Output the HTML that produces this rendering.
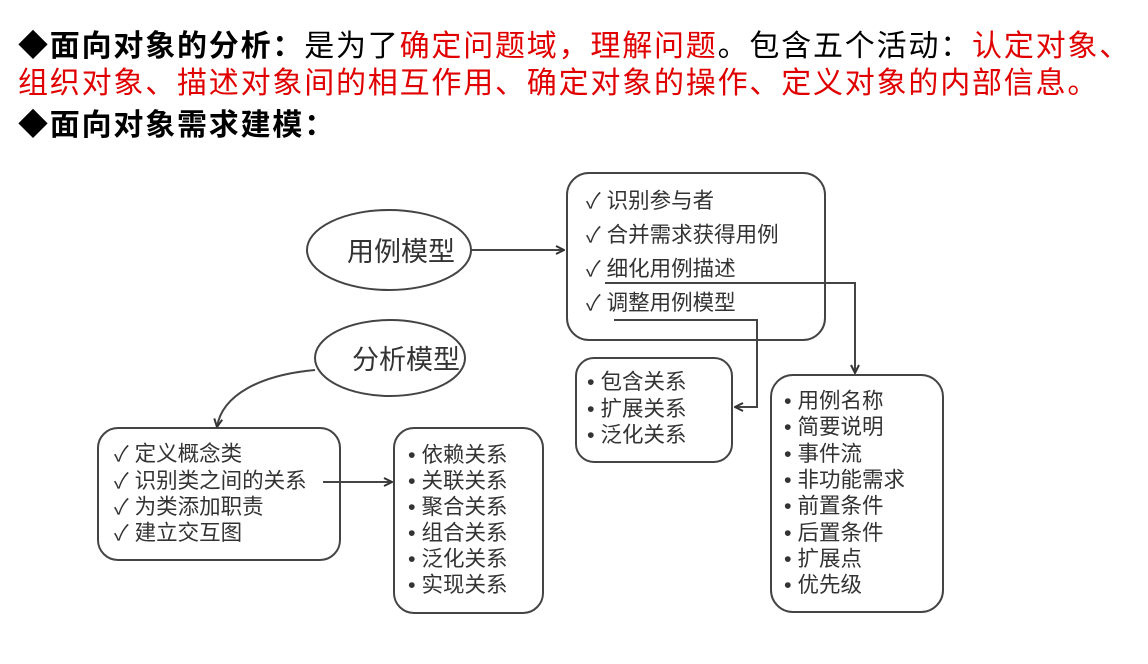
<!DOCTYPE html>
<html><head><meta charset="utf-8"><style>
html,body{margin:0;padding:0;background:#fff;width:1148px;height:664px;overflow:hidden;}
.h{position:absolute;left:18px;font-family:"Liberation Sans","Noto Sans CJK SC",sans-serif;font-size:30px;letter-spacing:1.8px;line-height:34px;white-space:nowrap;color:#000;}
.r{color:#e00000}
b{font-weight:bold}
svg{position:absolute;left:0;top:0}
svg text{font-family:"Liberation Sans","Noto Sans CJK SC",sans-serif;fill:#333;}
</style></head><body>
<div class="h" style="top:30px"><b>◆面向对象的分析：</b>是为了<span class="r">确定问题域，理解问题</span>。包含五个活动：<span class="r">认定对象、</span></div>
<div class="h r" style="top:67px">组织对象、描述对象间的相互作用、确定对象的操作、定义对象的内部信息。</div>
<div class="h" style="top:109px"><b>◆面向对象需求建模：</b></div>
<svg width="1148" height="664" viewBox="0 0 1148 664">
<defs><marker id="a" markerWidth="10" markerHeight="10" refX="9" refY="5" orient="auto" markerUnits="userSpaceOnUse"><path d="M1,1 L9,5 L1,9" fill="none" stroke="#333" stroke-width="2"/></marker></defs>
<g fill="none" stroke="#444" stroke-width="2">
<ellipse cx="389" cy="250" rx="82" ry="40"/>
<ellipse cx="390" cy="358" rx="75" ry="38"/>
<rect x="567" y="173" width="258" height="167" rx="22"/>
<rect x="576" y="358" width="156" height="104" rx="18"/>
<rect x="771" y="375" width="172" height="237" rx="22"/>
<rect x="98" y="428" width="242" height="132" rx="20"/>
<rect x="394" y="428" width="149" height="185" rx="20"/>
<line x1="471" y1="250" x2="564" y2="250" marker-end="url(#a)"/>
<polyline points="605,283 855,283 855,373" marker-end="url(#a)"/>
<polyline points="614,320 757,320 757,407 735,407" marker-end="url(#a)"/>
<path d="M315,370 C260,375 222,395 217,427" marker-end="url(#a)"/>
<line x1="323" y1="482" x2="392" y2="482" marker-end="url(#a)"/>
</g>
<g font-size="27">
<text x="347" y="261">用例模型</text>
<text x="352" y="369">分析模型</text>
</g>
<g font-size="21.5">
<text x="586" y="208">✓ 识别参与者</text>
<text x="586" y="242">✓ 合并需求获得用例</text>
<text x="586" y="276">✓ 细化用例描述</text>
<text x="586" y="310">✓ 调整用例模型</text>
<text x="587" y="389">• 包含关系</text>
<text x="587" y="416">• 扩展关系</text>
<text x="587" y="442">• 泛化关系</text>
<text x="784" y="408">• 用例名称</text>
<text x="784" y="434">• 简要说明</text>
<text x="784" y="461">• 事件流</text>
<text x="784" y="487">• 非功能需求</text>
<text x="784" y="513">• 前置条件</text>
<text x="784" y="540">• 后置条件</text>
<text x="784" y="566">• 扩展点</text>
<text x="784" y="592">• 优先级</text>
<text x="114" y="461">✓ 定义概念类</text>
<text x="114" y="488">✓ 识别类之间的关系</text>
<text x="114" y="514">✓ 为类添加职责</text>
<text x="114" y="540">✓ 建立交互图</text>
<text x="408" y="462">• 依赖关系</text>
<text x="408" y="488">• 关联关系</text>
<text x="408" y="514">• 聚合关系</text>
<text x="408" y="540">• 组合关系</text>
<text x="408" y="566">• 泛化关系</text>
<text x="408" y="592">• 实现关系</text>
</g>
</svg>
</body></html>
